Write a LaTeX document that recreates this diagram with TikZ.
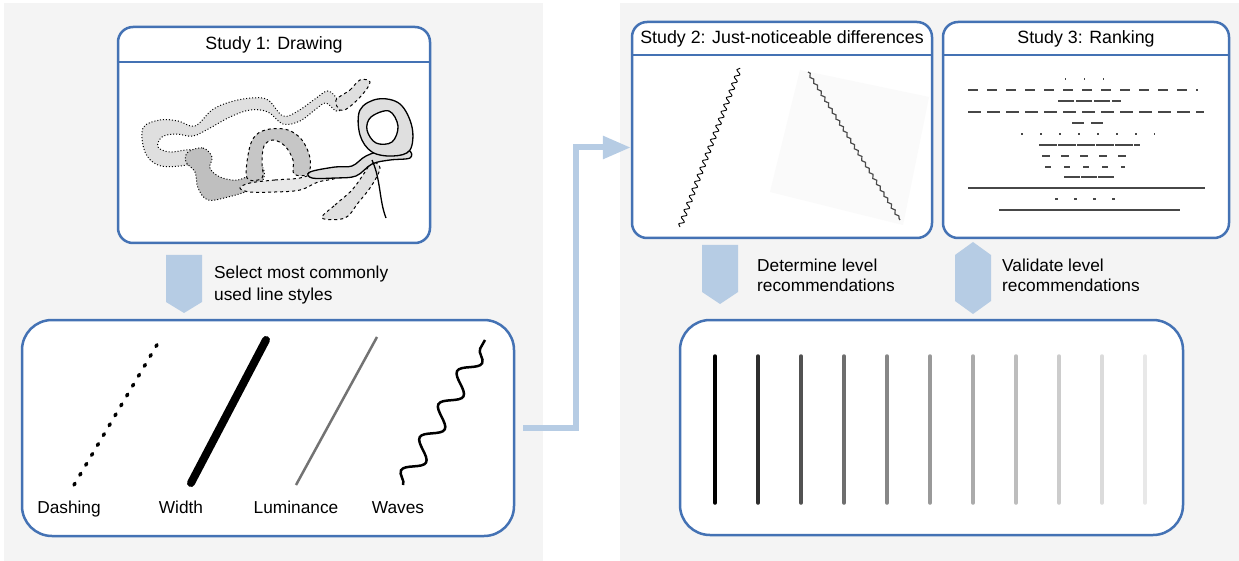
\documentclass[tikz,border=0pt]{standalone}
\usepackage{fontspec}
\setmainfont{Liberation Sans}
\usepackage{tikz}
\usetikzlibrary{arrows.meta,decorations.pathmorphing,positioning}
\definecolor{stblue}{RGB}{68,114,180}
\definecolor{starrow}{RGB}{182,204,228}
\definecolor{stgrey}{RGB}{244,244,244}
\tikzstyle{studybox} = [draw=stblue, line width=2.5pt, fill=white, rounded corners=15pt, inner sep=0pt]
\tikzstyle{resultbox} = [draw=stblue, line width=2.5pt, fill=white, rounded corners=30pt, inner sep=0pt]
\tikzstyle{blockarrow} = [fill=starrow]
\tikzstyle{lbl} = [inner sep=0pt, font=\fontsize{17.3}{21}\selectfont]
\tikzstyle{title} = [inner sep=0pt, font=\fontsize{17.8}{21}\selectfont]
\tikzstyle{connector} = [line width=6pt, color=starrow, -{Triangle[length=28pt,width=22pt]}]
\tikzstyle{rankline} = [line width=1.3pt, color=black!72]
\tikzstyle{ribbon} = [line width=1pt, fill=gray!25]

\begin{document}
\begin{tikzpicture}[x=1pt, y=-1pt]
% Background
\useasboundingbox (0,0) rectangle (1239,561);
\fill[stgrey] (4,3) rectangle (543,561);
\fill[stgrey] (620,3) rectangle (1239,561);

% Study 1
\node[studybox, minimum width=312pt, minimum height=216pt] (s1) at (274,135) {};
\draw[stblue, line width=2.5pt] (s1.west |- 0,62) -- (s1.east |- 0,62);
\node[title] (s1t) at (274,45) {Study 1: Drawing};
\filldraw[ribbon, dotted] plot[smooth cycle, tension=0.6] coordinates {(143,128) (160,120) (178,121) (195,126) (212,110) (230,102) (252,98) (268,100) (283,116) (298,111) (315,99) (328,91) (338,100) (342,108) (336,111) (326,103) (316,109) (300,121) (283,124) (268,112) (250,110) (230,117) (210,128) (193,136) (176,134) (162,137) (158,147) (170,152) (192,150) (200,160) (180,166) (158,165) (145,152)};
\filldraw[ribbon, dashed] plot[smooth cycle, tension=0.6] coordinates {(336,100) (350,90) (360,80) (370,82) (362,95) (348,108) (340,110)};
\filldraw[ribbon, dotted, fill=gray!50] plot[smooth cycle, tension=0.6] coordinates {(188,152) (203,148) (212,157) (210,168) (220,177) (238,180) (255,172) (263,168) (263,180) (250,190) (228,197) (208,200) (198,188) (195,172) (186,162)};
\filldraw[ribbon, dashed, fill=gray!18] plot[smooth cycle, tension=0.6] coordinates {(250,183) (275,180) (300,178) (318,172) (335,170) (336,178) (318,182) (300,190) (275,192) (250,192) (240,188)};
\filldraw[ribbon, dashed, fill=gray!45] plot[smooth cycle, tension=0.6] coordinates {(247,178) (249,150) (256,135) (270,129) (288,130) (302,140) (310,158) (308,174) (294,174) (293,160) (285,146) (273,140) (264,146) (262,162) (262,178)};
\filldraw[ribbon, dashed] plot[smooth cycle, tension=0.6] coordinates {(322,218) (335,205) (352,190) (365,172) (372,162) (380,168) (372,185) (358,203) (345,218)};
\filldraw[ribbon, line width=1.3pt] plot[smooth cycle, tension=0.6] coordinates {(310,172) (335,167) (352,166) (366,156) (385,150) (408,150) (410,158) (390,160) (372,164) (356,176) (335,178) (312,178)};
\filldraw[ribbon, line width=1.3pt, even odd rule] plot[smooth cycle, tension=0.6] coordinates {(360,110) (378,99) (400,104) (412,127) (410,150) (393,156) (372,152) (360,135)}
  plot[smooth cycle, tension=0.6] coordinates {(371,117) (389,111) (398,126) (392,142) (376,143) (367,130)};
\draw[line width=1.3pt] (372,160) .. controls (381,180) and (379,200) .. (386,218);

% Select styles
\coordinate (a1) at (184,255);
\fill[blockarrow] (a1) ++(-18,0) -- ++(36,0) -- ++(0,47) -- ++(-18,11) -- ++(-18,-11) -- cycle;
\node[lbl, anchor=west, align=left, font=\fontsize{17.3}{22}\selectfont] (a1t) at (214,285) {Select most commonly\\used line styles};

% Line styles
\node[resultbox, minimum width=492pt, minimum height=216pt] (styles) at (268,428) {};
\draw[line width=3.5pt, line cap=round, dash pattern=on 2pt off 9.5pt] (74,485) -- (161,338);
\draw[line width=8pt, line cap=round] (191,483) -- (266,340);
\draw[line width=2.5pt, black!55] (296,485) -- (377,337);
\draw[line width=2.5pt, decorate, decoration={snake, segment length=38pt, amplitude=9pt}] (403,485) -- (485,340);
\node[lbl, anchor=base] (dash) at (69,513) {Dashing};
\node[lbl, anchor=base] (width) at (181,513) {Width};
\node[lbl, anchor=base] (lum) at (296,513) {Luminance};
\node[lbl, anchor=base] (wave) at (398,513) {Waves};

% Study 2
\node[studybox, minimum width=300pt, minimum height=216pt] (s2) at (782,130) {};
\draw[stblue, line width=2.5pt] (s2.west |- 0,55) -- (s2.east |- 0,55);
\node[title] (s2t) at (782,39) {Study 2: Just-noticeable differences};
\fill[black!2] (800,70) -- (929,97) -- (903,225) -- (770,192) -- cycle;
\draw[line width=0.9pt, decorate, decoration={snake, segment length=7.5pt, amplitude=2.3pt}] (680,227) -- (740,68);
\draw[black!70, line width=1.2pt, decorate, decoration={snake, segment length=7pt, amplitude=1.2pt}] (808,72) -- (900,220);

% Study 3
\node[studybox, minimum width=286pt, minimum height=216pt] (s3) at (1086,130) {};
\draw[stblue, line width=2.5pt] (s3.west |- 0,55) -- (s3.east |- 0,55);
\node[title] (s3t) at (1086,39) {Study 3: Ranking};
\foreach \y/\xa/\xb/\on/\off in {79/1065/1105/1/18, 90/968/1198/10/9, 101/1058/1121/16/2,
  112/968/1204/13/6, 123/1072/1103/12/7, 134/1021/1155/1.5/17.5, 145/1039/1140/18/1,
  156/1042/1126/8/11, 167/1045/1125/6/13, 177/1064/1115/16/1, 188/968/1205/300/1,
  199/1055/1116/3/16, 210/999/1180/300/1}
  \draw[rankline, dash pattern=on \on pt off \off pt] (\xa,\y) -- (\xb,\y);

% Connector to study 2
\draw[connector] ([xshift=8pt]styles.east) -- ++(53,0) |- ([yshift=-17.5pt]s2.west);

% Level recommendations
\coordinate (a2) at (720,245);
\fill[blockarrow] (a2) ++(-18,0) -- ++(36,0) -- ++(0,47) -- ++(-18,12) -- ++(-18,-12) -- cycle;
\node[lbl, anchor=west, align=left, font=\fontsize{17.3}{20}\selectfont] (a2t) at (757,275) {Determine level\\recommendations};
\coordinate (a3) at (973,242);
\fill[blockarrow] (a3) -- ++(18,13) -- ++(0,46) -- ++(-18,13) -- ++(-18,-13) -- ++(0,-46) -- cycle;
\node[lbl, anchor=west, align=left, font=\fontsize{17.3}{20}\selectfont] (a3t) at (1002,275) {Validate level\\recommendations};

% Levels
\node[resultbox, minimum width=503pt, minimum height=215pt] (levels) at (931.5,427.5) {};
\foreach \g [count=\i from 0] in {100,82,68,57,47,40,33,26,20,14,9}
  \draw[line width=3.5pt, line cap=round, black!\g] (715+43*\i,356) -- (715+43*\i,503);
\end{tikzpicture}
\end{document}
